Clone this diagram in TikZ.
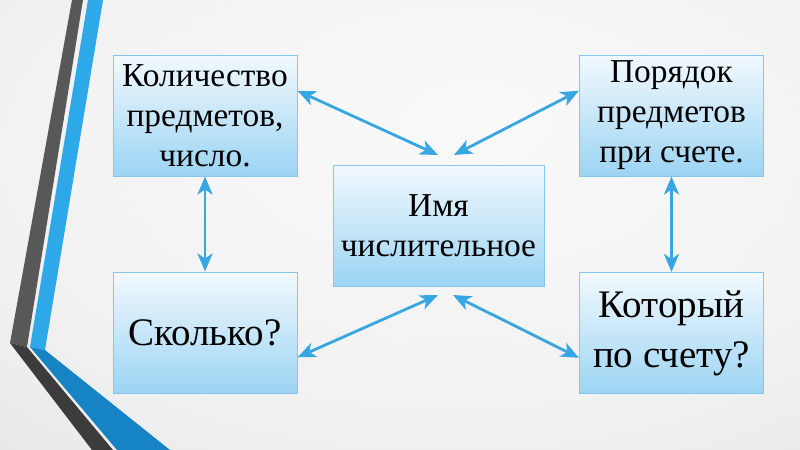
\documentclass[tikz,border=0pt]{standalone}
\usepackage{fontspec}
\setmainfont{Liberation Serif}
\usetikzlibrary{arrows.meta,calc}

\definecolor{boxtop}{RGB}{242,249,254}
\definecolor{boxbottom}{RGB}{156,212,243}
\definecolor{boxline}{RGB}{135,198,235}
\definecolor{linkblue}{RGB}{55,166,226}
\definecolor{stripedark}{RGB}{88,88,88}
\definecolor{stripedeep}{RGB}{60,60,60}
\definecolor{stripeblue}{RGB}{45,168,232}
\definecolor{stripedeepblue}{RGB}{22,132,196}

\pgfdeclareradialshading{slidebg}{\pgfpoint{5bp}{12bp}}{color(0bp)=(gray!4); color(30bp)=(gray!11); color(55bp)=(gray!25); color(80bp)=(gray!33)}

\begin{document}
\begin{tikzpicture}[x=0.5pt, y=-0.5pt,
    box/.style={draw=boxline, line width=0.5pt, top color=boxtop, bottom color=boxbottom,
        minimum width=92pt, minimum height=60.5pt, align=center, inner sep=0pt,
        font=\fontsize{16.7}{20}\selectfont},
    bigbox/.style={box, font=\fontsize{19.5}{25}\selectfont},
    link/.style={draw=linkblue, line width=1.4pt,
        {Stealth[length=9pt,width=7.5pt,inset=2.5pt]}-{Stealth[length=9pt,width=7.5pt,inset=2.5pt]}}]
    % Background
    \useasboundingbox (0,0) rectangle (800,450);
    \shade[shading=slidebg] (0,0) rectangle (800,450);
    
    % Left stripes
    \fill[stripedark] (72,0) -- (83,0) -- (27,347) -- (10,343) -- cycle;
    \fill[stripedeep] (10,343) -- (27,347) -- (113,450) -- (92,450) -- cycle;
    \fill[stripeblue] (88,0) -- (103,0) -- (45,350) -- (30,347) -- cycle;
    \fill[stripedeepblue] (30,347) -- (45,350) -- (170,450) -- (117,450) -- cycle;
    
    % Boxes
    \node[box] (kolvo) at (205,115.5) {Количество\\предметов,\\число.};
    \node[box] (poryadok) at (671.5,115.5) {Порядок\\предметов\\при счете.};
    \node[box, minimum width=105.5pt] (imya) at (438.5,225.5) {Имя\\числительное};
    \node[bigbox] (skolko) at (205,332.5) {Сколько?};
    \node[bigbox] (kotoryi) at (671.5,333) {Который\\по счету?};
    
    % Free ends near the middle box
    \coordinate (imya-nw) at (438,155);
    \coordinate (imya-ne) at (454,155);
    \coordinate (imya-sw) at (438,295);
    \coordinate (imya-se) at (453,295);
    
    % Arrows
    \draw[link] (kolvo.south) -- (skolko.north);
    \draw[link] (poryadok.south) -- (kotoryi.north);
    \draw[link] (kolvo.15) -- (imya-nw);
    \draw[link] (poryadok.165) -- (imya-ne);
    \draw[link] (skolko.-15) -- (imya-sw);
    \draw[link] (kotoryi.195) -- (imya-se);
\end{tikzpicture}
\end{document}
